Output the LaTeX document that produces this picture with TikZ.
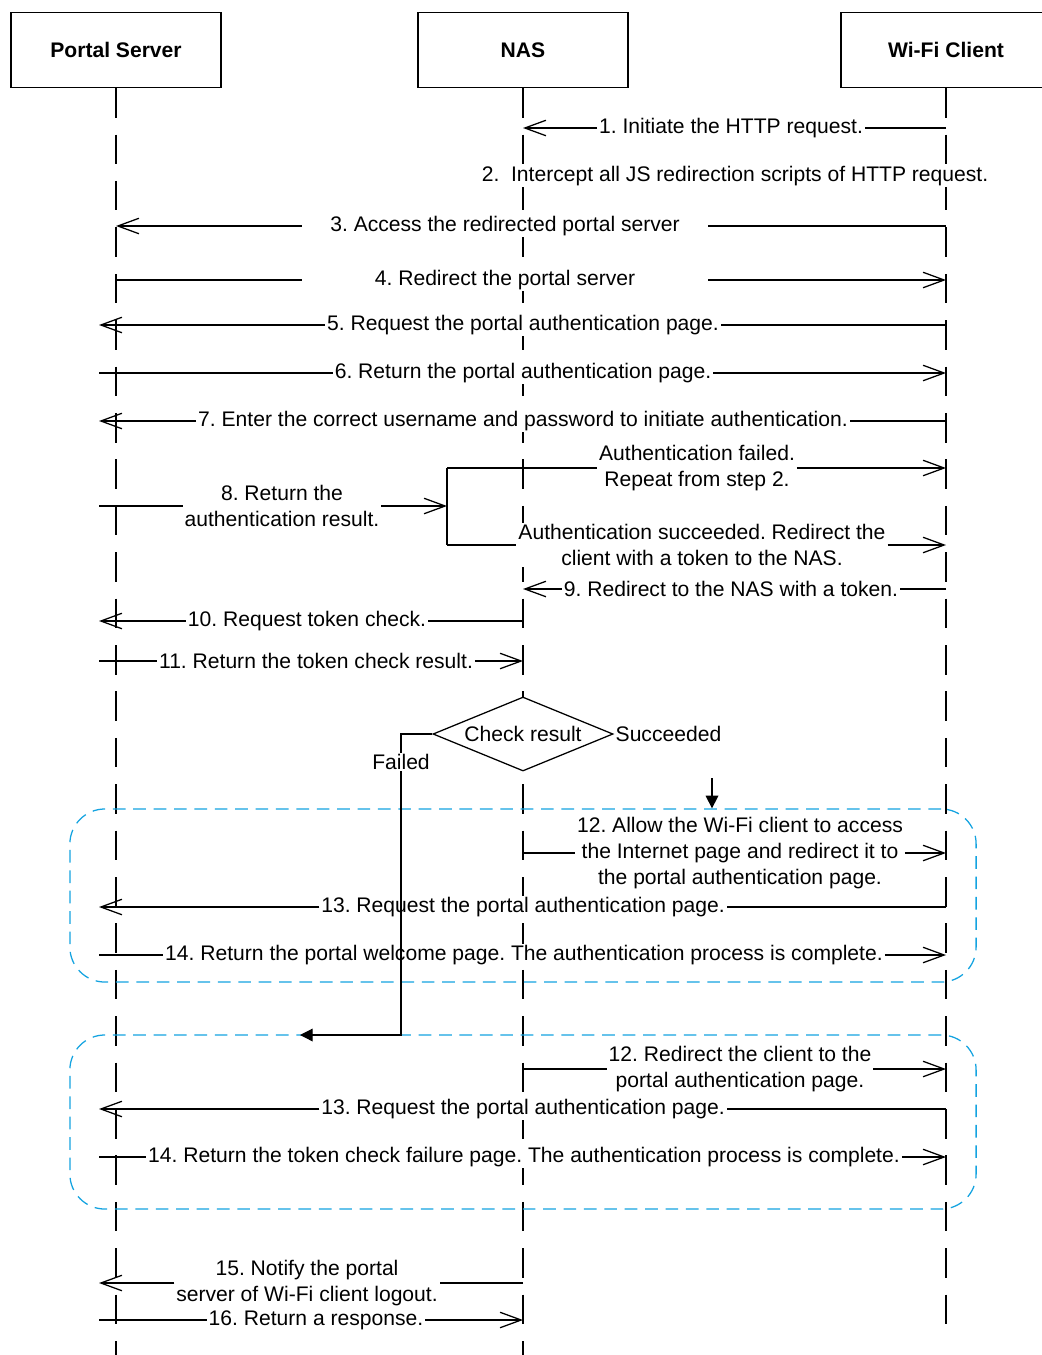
\documentclass[tikz,border=0pt]{standalone}
\usepackage{fontspec}
\setmainfont{Liberation Sans}
\usepackage{tikz}
\usetikzlibrary{arrows.meta, positioning, calc, shapes.geometric}
\definecolor{phasecyan}{HTML}{14A3E0}
\frenchspacing

\begin{document}
\begin{tikzpicture}[x=0.025cm,y=-0.025cm,
  font=\fontsize{15}{18.5}\selectfont, line width=0.9pt,
  actor/.style={draw,minimum width=5.25cm,minimum height=1.875cm,
    font=\fontsize{15}{18}\selectfont\bfseries},
  lifeline/.style={dash pattern=on 21pt off 12pt},
  lbl/.style={fill=white,inner sep=1pt,align=center},
  msg/.style={-{Straight Barb[length=15pt,width=11pt]}},
  flow/.style={-{Triangle[length=9pt,width=9pt]}},
  phase/.style={draw=phasecyan,line width=0.9pt,dash pattern=on 9pt off 5.5pt,
    rounded corners=0.875cm,minimum width=22.65cm}]
  \useasboundingbox (0,0) rectangle (1041,1355);

  % actors
  \node[actor] (ps)  at (116,50) {Portal Server};
  \node[actor] (nas) at (523,50) {NAS};
  \node[actor] (wc)  at (946,50) {Wi-Fi Client};
  \coordinate (pe) at (99,88);     % arrow ends left of portal lifeline
  \coordinate (bot) at (0,1355);
  \coordinate (botw) at (0,1340);

  % lifelines
  \draw[lifeline] (ps.south) -- (ps |- bot);
  \draw[lifeline] (nas.south) -- (nas |- bot);
  \draw[lifeline] (wc.south) -- (wc |- botw);

  % success / failure phases
  \node[phase,minimum height=4.325cm] (ph1) at (523,895.5) {};
  \node[phase,minimum height=4.35cm] (ph2) at (523,1122) {};

  % 1--4
  \node[lbl] (m1) at (731,128) {1. Initiate the HTTP request.};
  \draw (wc |- m1) -- (m1.east);
  \draw[msg] (m1.west) -- (nas |- m1);
  \node[lbl] (m2) at (735,176) {2.\ \ Intercept all JS redirection scripts of HTTP request.};
  \node[lbl,minimum width=10.125cm] (m3) at (505,226) {3. Access the redirected portal server};
  \draw (wc |- m3) -- (m3.east);
  \draw[msg] (m3.west) -- (ps |- m3);
  \node[lbl,minimum width=10.125cm] (m4) at (505,280) {4. Redirect the portal server};
  \draw (ps |- m4) -- (m4.west);
  \draw[msg] (m4.east) -- (wc |- m4);

  % 5--7
  \node[lbl] (m5) at (523,325) {5. Request the portal authentication page.};
  \draw (wc |- m5) -- (m5.east);
  \draw[msg] (m5.west) -- (pe |- m5);
  \node[lbl] (m6) at (523,373) {6. Return the portal authentication page.};
  \draw (pe |- m6) -- (m6.west);
  \draw[msg] (m6.east) -- (wc |- m6);
  \node[lbl] (m7) at (523,421) {7. Enter the correct username and password to initiate authentication.};
  \draw (wc |- m7) -- (m7.east);
  \draw[msg] (m7.west) -- (pe |- m7);

  % 8 and the branch on the result
  \coordinate (bt) at (447,468);
  \coordinate (bb) at (447,545);
  \node[lbl] (m8) at (282,506) {8. Return the\\authentication result.};
  \draw (pe |- m8) -- (m8.west);
  \draw[msg] (m8.east) -- (bt |- m8);
  \draw (bt) -- (bb);
  \node[lbl] (af) at (697,468) {Authentication failed.\\Repeat from step 2.};
  \draw (bt) -- (af.west);
  \draw[msg] (af.east) -- (wc |- af);
  \node[lbl] (as) at (702,545) {Authentication succeeded. Redirect the\\client with a token to the NAS.};
  \draw (bb) -- (as.west);
  \draw[msg] (as.east) -- (wc |- as);

  % 9--11
  \node[lbl] (m9) at (731,589) {9. Redirect to the NAS with a token.};
  \draw (wc |- m9) -- (m9.east);
  \draw[msg] (m9.west) -- (nas |- m9);
  \node[lbl] (m10) at (307,621) {10. Request token check.};
  \draw (nas |- m10) -- (m10.east);
  \draw[msg] (m10.west) -- (pe |- m10);
  \node[lbl] (m11) at (316,661) {11. Return the token check result.};
  \draw (pe |- m11) -- (m11.west);
  \draw[msg] (m11.east) -- (nas |- m11);

  % token check
  \node[diamond,draw,fill=white,inner sep=0pt,aspect=2.4,minimum width=4.5cm,
    minimum height=1.85cm] (chk) at (523,734) {Check result};
  \node[anchor=west,inner sep=1pt] (ok) at (chk.east) {Succeeded};
  \coordinate (okdn) at (712,778);
  \draw[flow] (okdn) -- (okdn |- ph1.north);

  % 12--14, success
  \node[lbl] (m12) at (740,853) {12. Allow the Wi-Fi client to access\\the Internet page and redirect it to\\the portal authentication page.};
  \draw (nas |- m12) -- (m12.west);
  \draw[msg] (m12.east) -- (wc |- m12);
  \node[lbl] (m13) at (523,907) {13. Request the portal authentication page.};
  \draw (wc |- m13) -- (m13.east);
  \draw[msg] (m13.west) -- (pe |- m13);
  \node[lbl] (m14) at (524,955) {14. Return the portal welcome page. The authentication process is complete.};
  \draw (pe |- m14) -- (m14.west);
  \draw[msg] (m14.east) -- (wc |- m14);

  % 12--14, failure
  \node[lbl] (n12) at (740,1069) {12. Redirect the client to the\\portal authentication page.};
  \draw (nas |- n12) -- (n12.west);
  \draw[msg] (n12.east) -- (wc |- n12);
  \node[lbl] (n13) at (523,1109) {13. Request the portal authentication page.};
  \draw (wc |- n13) -- (n13.east);
  \draw[msg] (n13.west) -- (pe |- n13);
  \node[lbl] (n14) at (524,1157) {14. Return the token check failure page. The authentication process is complete.};
  \draw (pe |- n14) -- (n14.west);
  \draw[msg] (n14.east) -- (wc |- n14);

  % 15--16 logout
  \node[lbl] (m15) at (307,1283) {15. Notify the portal\\server of Wi-Fi client logout.};
  \draw (nas |- m15) -- (m15.east);
  \draw[msg] (m15.west) -- (pe |- m15);
  \node[lbl] (m16) at (316,1320) {16. Return a response.};
  \draw (pe |- m16) -- (m16.west);
  \draw[msg] (m16.east) -- (nas |- m16);

  % failed branch, over the texts
  \coordinate (fturn) at (401,1035);
  \coordinate (fend) at (300,1035);
  \draw[flow] (chk.west) -| (fturn) -- (fend);
  \node[lbl] (fl) at (401,762) {Failed};
\end{tikzpicture}
\end{document}
